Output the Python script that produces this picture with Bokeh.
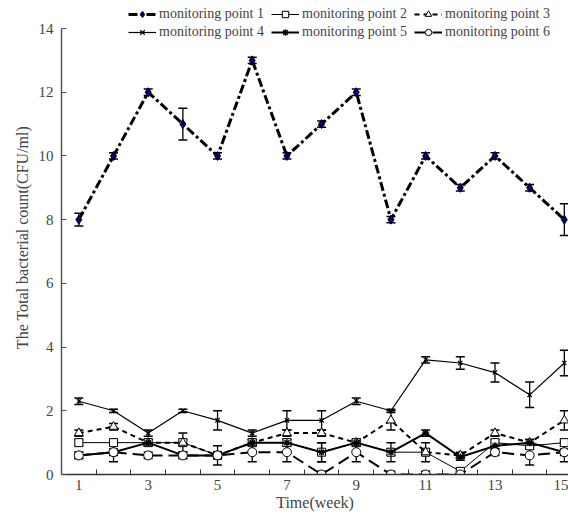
import numpy as np
from bokeh.plotting import figure
from bokeh.models import (ColumnDataSource, Whisker, TeeHead, Legend, LegendItem,
                          FixedTicker, Range1d, Title)
from bokeh.embed import file_html
from bokeh.resources import INLINE

weeks = list(range(1, 16))
s1 = [8, 10, 12, 11, 10, 13, 10, 11, 12, 8, 10, 9, 10, 9, 8]
e1 = [0.2, 0.1, 0.1, 0.5, 0.1, 0.1, 0.1, 0.1, 0.1, 0.1, 0.1, 0.1, 0.1, 0.1, 0.5]
s2 = [1.0, 1.0, 1.0, 1.0, 0.6, 1.0, 1.0, 0.7, 1.0, 0.7, 0.7, 0.1, 1.0, 0.9, 1.0]
e2 = [0.1, 0.1, 0.1, 0.3, 0.3, 0.1, 0.1, 0.3, 0.1, 0.3, 0.1, 0.1, 0.1, 0.1, 0.1]
s3 = [1.3, 1.5, 1.0, 1.0, 0.6, 1.0, 1.3, 1.3, 1.0, 1.7, 0.7, 0.6, 1.3, 1.0, 1.7]
e3 = [0.1, 0.1, 0.1, 0.1, 0.1, 0.1, 0.1, 0.1, 0.1, 0.3, 0.3, 0.1, 0.1, 0.1, 0.3]
s4 = [2.3, 2.0, 1.3, 2.0, 1.7, 1.3, 1.7, 1.7, 2.3, 2.0, 3.6, 3.5, 3.2, 2.5, 3.5]
e4 = [0.1, 0.05, 0.1, 0.05, 0.3, 0.1, 0.3, 0.3, 0.1, 0.05, 0.1, 0.2, 0.3, 0.4, 0.4]
s5 = [0.6, 0.7, 1.0, 0.6, 0.6, 1.0, 1.0, 0.7, 1.0, 0.7, 1.3, 0.55, 0.9, 1.0, 0.7]
e5 = [0.1, 0.1, 0.1, 0.1, 0.1, 0.1, 0.1, 0.3, 0.1, 0.1, 0.1, 0.1, 0.1, 0.1, 0.1]
s6 = [0.6, 0.7, 0.6, 0.6, 0.6, 0.7, 0.7, 0.0, 0.7, 0.0, 0.0, 0.0, 0.7, 0.6, 0.7]
e6 = [0.1, 0.3, 0.1, 0.1, 0.1, 0.3, 0.3, 0.1, 0.3, 0.1, 0.1, 0.1, 0.1, 0.3, 0.3]
names = ["monitoring point 1", "monitoring point 2", "monitoring point 3",
         "monitoring point 4", "monitoring point 5", "monitoring point 6"]
x_labels = [1, 3, 5, 7, 9, 11, 13, 15]
y_ticks = [0, 2, 4, 6, 8, 10, 12, 14]
y_max = 14

FONT = "Liberation Serif"

frame_h = 474
y_end = y_max * frame_h / 446.0

p = figure(width=568, height=517, output_backend="svg", toolbar_location=None,
           x_range=Range1d(0.5, 15.12), y_range=Range1d(0, y_end),
           min_border_left=61, min_border_right=0, min_border_top=0,
           min_border_bottom=43)
p.outline_line_color = None
p.xgrid.visible = False
p.ygrid.visible = False
p.background_fill_color = "white"
p.border_fill_color = "white"

styles = [
    dict(line=dict(line_width=3, line_dash="9 3 3 3", line_color="black"),
         mk=dict(marker="diamond", size=9, fill_color="#000080", line_color="black")),
    dict(line=dict(line_width=1, line_color="black"),
         mk=dict(marker="square", size=8, fill_color="white", line_color="black")),
    dict(line=dict(line_width=2, line_dash="5 4", line_color="black"),
         mk=dict(marker="triangle", size=9, fill_color="white", line_color="black")),
    dict(line=dict(line_width=1.2, line_color="black"),
         mk=dict(marker="x", size=6, line_color="black", line_width=1.2)),
    dict(line=dict(line_width=2, line_color="black"),
         mk=dict(marker="asterisk", size=7, line_color="black", line_width=1.5)),
    dict(line=dict(line_width=2, line_dash="12 6", line_color="black"),
         mk=dict(marker="circle", size=9, fill_color="white", line_color="black")),
]
series = [s1, s2, s3, s4, s5, s6]
errs = [e1, e2, e3, e4, e5, e6]

items = []
for name, ys, es, st in zip(names, series, errs, styles):
    ys = np.array(ys, dtype=float)
    es = np.array(es, dtype=float)
    src = ColumnDataSource(dict(x=weeks, y=ys, lo=ys - es, hi=ys + es))
    w = Whisker(source=src, base="x", upper="hi", lower="lo",
                line_color="black", line_width=1.3,
                upper_head=TeeHead(size=9, line_color="black", line_width=1.5),
                lower_head=TeeHead(size=9, line_color="black", line_width=1.5))
    p.add_layout(w)
    lr = p.line("x", "y", source=src, **st["line"])
    sr = p.scatter("x", "y", source=src, **st["mk"])
    items.append(LegendItem(label=name, renderers=[lr, sr]))

order = [0, 3, 1, 4, 2, 5]
legend = Legend(items=[items[i] for i in order], ncols=3, location=(67, 434),
                label_text_font=FONT, label_text_font_size="14px",
                glyph_width=28, glyph_height=16, label_height=16, label_width=110,
                spacing=2, label_standoff=3, padding=0, margin=0,
                background_fill_alpha=0, border_line_color=None)
p.add_layout(legend, "center")

xa = p.xaxis[0]
xa.ticker = FixedTicker(ticks=x_labels, minor_ticks=[i + 0.5 for i in range(0, 16)])
xa.major_tick_in = 0
xa.major_tick_out = 0
xa.minor_tick_in = 5
xa.minor_tick_out = 0
xa.axis_label = "Time(week)"
xa.axis_label_text_font = FONT
xa.axis_label_text_font_style = "normal"
xa.axis_label_text_font_size = "16px"
xa.axis_label_standoff = 1
xa.major_label_text_font = FONT
xa.major_label_text_font_size = "15px"
xa.major_label_standoff = 5
xa.axis_line_color = "#333333"
xa.axis_line_width = 1.5
xa.minor_tick_line_color = "#333333"

ya = p.yaxis[0]
ya.ticker = FixedTicker(ticks=y_ticks, minor_ticks=[])
ya.bounds = (0, y_max)
ya.major_tick_in = 5
ya.major_tick_out = 0
ya.major_label_text_font = FONT
ya.major_label_text_font_size = "15px"
ya.major_label_standoff = 8
ya.axis_line_color = "#555555"
ya.axis_line_width = 1.5
ya.major_tick_line_color = "#555555"

ytitle = Title(text="The Total bacterial count(CFU/ml)", align="center", offset=24,
               text_font=FONT, text_font_size="16px", text_font_style="normal",
               standoff=9)
p.add_layout(ytitle, "left")

open("out.html", "w").write(file_html(p, INLINE))
